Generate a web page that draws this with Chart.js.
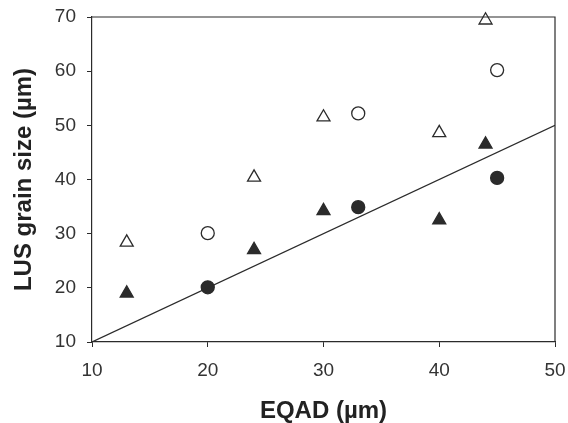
<!DOCTYPE html>
<html>
<head>
<meta charset="utf-8">
<script src="https://cdn.jsdelivr.net/npm/chart.js@4/dist/chart.umd.min.js"></script>
<style>
  html, body { margin: 0; padding: 0; background: #fff; }
  #wrap { position: relative; width: 568px; height: 423px; }
</style>
</head>
<body>
<div id="wrap"><canvas id="chart"></canvas></div>
<script>
// values (EQAD, LUS grain size) in µm
const openTriangles = [[13, 28.4], [24, 40.4], [30, 51.5], [40, 48.6], [44, 69.4]];
const openCircles = [[20, 30.1], [33, 52.2], [45, 60.2]];
const filledTriangles = [[13, 19.0], [24, 27.0], [30, 34.2], [40, 32.5], [44, 46.5]];
const filledCircles = [[20, 20.1], [33, 34.9], [45, 40.3]];
const unityLine = [[10, 10], [50, 50]];

const xTicks = [10, 20, 30, 40, 50];
const yTicks = [10, 20, 30, 40, 50, 60, 70];

const toXY = arr => arr.map(([x, y]) => ({ x, y }));
const ink = '#2b2b2b';
const family = "'Liberation Sans', Arial, sans-serif";

// draws the top and right edges of the plot frame
const frame = {
    id: 'frame',
    afterDatasetsDraw(chart) {
        const { ctx, chartArea: a } = chart;
        ctx.save();
        ctx.strokeStyle = ink;
        ctx.lineWidth = 1.2;
        ctx.beginPath();
        ctx.moveTo(a.left, a.top);
        ctx.lineTo(a.right, a.top);
        ctx.lineTo(a.right, a.bottom);
        ctx.stroke();
        ctx.restore();
    }
};

const marker = (label, data, style, filled) => ({
    label, data: toXY(data), showLine: false,
    pointStyle: style,
    pointRadius: style === 'triangle' ? 7.5 : 6.5,
    pointBackgroundColor: filled ? ink : '#fff',
    pointBorderColor: ink,
    pointBorderWidth: 1.3,
    clip: false,
});

new Chart(document.getElementById('chart'), {
    type: 'scatter',
    data: {
        datasets: [
            {
                label: '1:1', data: toXY(unityLine), showLine: true,
                borderColor: ink, borderWidth: 1.2, pointRadius: 0, fill: false,
            },
            marker('open triangles', openTriangles, 'triangle', false),
            marker('open circles', openCircles, 'circle', false),
            marker('filled triangles', filledTriangles, 'triangle', true),
            marker('filled circles', filledCircles, 'circle', true),
        ],
    },
    options: {
        responsive: true,
        maintainAspectRatio: false,
        animation: false,
        events: [],
        layout: { padding: { top: 17, right: 13, left: 0, bottom: 0 } },
        plugins: { legend: { display: false }, tooltip: { enabled: false } },
        scales: {
            x: {
                type: 'linear', min: 10, max: 50,
                afterBuildTicks: s => { s.ticks = xTicks.map(v => ({ value: v })); },
                afterFit: s => { s.height = 81; s.paddingLeft = 0; s.paddingRight = 0; },
                border: { color: ink, width: 1.2 },
                grid: { drawOnChartArea: false, drawTicks: true, tickLength: 5, color: ink },
                ticks: {
                    color: '#333', padding: 12,
                    font: { family, size: 19 },
                },
                title: {
                    display: true, text: 'EQAD (µm)', color: '#222',
                    padding: { top: 0, bottom: 0 },
                    font: { family, size: 24, weight: 'bold', lineHeight: 1.0 },
                },
            },
            y: {
                type: 'linear', min: 10, max: 70,
                afterBuildTicks: s => { s.ticks = yTicks.map(v => ({ value: v })); },
                afterFit: s => { s.width = 92; s.paddingTop = 0; s.paddingBottom = 0; },
                border: { color: ink, width: 1.2 },
                grid: { drawOnChartArea: false, drawTicks: true, tickLength: 5, color: ink },
                ticks: {
                    color: '#333', padding: 11,
                    font: { family, size: 19 },
                },
                title: {
                    display: true, text: 'LUS grain size (µm)', color: '#222',
                    padding: { top: 10, bottom: 0 },
                    font: { family, size: 24, weight: 'bold', lineHeight: 1.2 },
                },
            },
        },
    },
    plugins: [frame],
});
</script>
</body>
</html>
